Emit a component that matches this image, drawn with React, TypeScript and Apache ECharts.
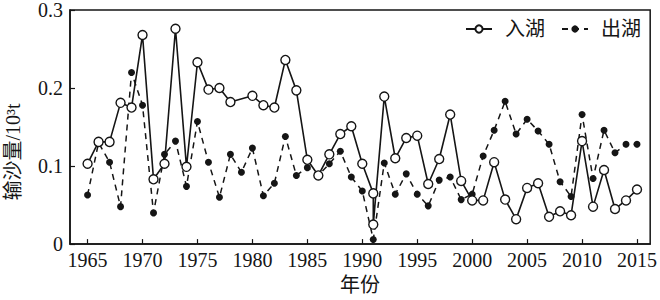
import React, { useEffect, useRef } from "react";
import * as echarts from "echarts";

// 入湖 (inflow) — the original figure skips 1979 and shows two circles near 1991
const inYears = [
  1965, 1966, 1967, 1968, 1969, 1970, 1971, 1972, 1973, 1974, 1975, 1976, 1977, 1978,
  1980, 1981, 1982, 1983, 1984, 1985, 1986, 1987, 1988, 1989, 1990, 1991, 1991,
  1992, 1993, 1994, 1995, 1996, 1997, 1998, 1999, 2000, 2001, 2002, 2003, 2004,
  2005, 2006, 2007, 2008, 2009, 2010, 2011, 2012, 2013, 2014, 2015,
];
const inValues = [
  0.103, 0.131, 0.131, 0.181, 0.175, 0.268, 0.083, 0.103, 0.276, 0.099, 0.233, 0.198, 0.2, 0.182,
  0.19, 0.178, 0.175, 0.236, 0.197, 0.108, 0.088, 0.115, 0.141, 0.151, 0.103, 0.065, 0.025,
  0.189, 0.11, 0.136, 0.139, 0.077, 0.109, 0.166, 0.081, 0.056, 0.056, 0.105, 0.057, 0.032,
  0.072, 0.078, 0.035, 0.042, 0.037, 0.132, 0.048, 0.095, 0.045, 0.056, 0.07,
];

// 出湖 (outflow)
const outYears = [
  1965, 1966, 1967, 1968, 1969, 1970, 1971, 1972, 1973, 1974, 1975, 1976, 1977,
  1978, 1979, 1980, 1981, 1982, 1983, 1984, 1985, 1986, 1987, 1988, 1989, 1990,
  1991, 1992, 1993, 1994, 1995, 1996, 1997, 1998, 1999, 2000, 2001, 2002, 2003,
  2004, 2005, 2006, 2007, 2008, 2009, 2010, 2011, 2012, 2013, 2014, 2015,
];
const outValues = [
  0.063, 0.13, 0.105, 0.048, 0.22, 0.178, 0.04, 0.115, 0.132, 0.074, 0.157, 0.105, 0.06,
  0.115, 0.092, 0.123, 0.062, 0.078, 0.138, 0.088, 0.098, 0.088, 0.103, 0.119, 0.086, 0.068,
  0.006, 0.104, 0.064, 0.09, 0.064, 0.049, 0.082, 0.086, 0.057, 0.064, 0.113, 0.146, 0.183,
  0.141, 0.16, 0.145, 0.128, 0.08, 0.061, 0.166, 0.084, 0.146, 0.117, 0.128, 0.128,
];

const xTicks = [1965, 1970, 1975, 1980, 1985, 1990, 1995, 2000, 2005, 2010, 2015];
const yTicks = [0, 0.1, 0.2, 0.3];
const yTitle = "输沙量/10³t";
const xTitle = "年份";

const FONT = "'Liberation Serif', 'Times New Roman', 'Noto Sans CJK SC', serif";
const INK = "#151515";

export default function App() {
  const ref = useRef<HTMLDivElement>(null);

  useEffect(() => {
    if (!ref.current) return;
    const chart = echarts.init(ref.current, null, { renderer: "svg" });
    chart.setOption({
      animation: false,
      backgroundColor: "#ffffff",
      textStyle: { fontFamily: FONT, color: INK },
      grid: {
        show: true,
        left: 70,
        top: 6,
        right: 4,
        bottom: 48,
        borderColor: INK,
        borderWidth: 1.5,
        backgroundColor: "transparent",
      },
      legend: {
        right: 14,
        top: 14,
        itemWidth: 26,
        itemHeight: 9,
        itemGap: 16,
        textStyle: { fontFamily: FONT, fontSize: 20, color: INK, padding: [0, 0, 0, 8] },
        data: ["入湖", "出湖"],
      },
      graphic: [
        {
          type: "text",
          x: 13,
          y: 152,
          rotation: Math.PI / 2,
          style: {
            text: yTitle,
            font: `20px ${FONT}`,
            fill: INK,
            align: "center",
            verticalAlign: "middle",
          },
        },
      ],
      xAxis: {
        type: "value",
        min: 1963.4,
        max: 2016.2,
        name: xTitle,
        nameLocation: "middle",
        nameGap: 29,
        nameTextStyle: { fontFamily: FONT, fontSize: 20, color: INK },
        axisLine: { show: true, lineStyle: { color: INK, width: 1.5 } },
        axisTick: {
          show: true,
          inside: true,
          length: 5,
          customValues: xTicks,
          lineStyle: { color: INK, width: 1.2 },
        },
        axisLabel: {
          customValues: xTicks,
          fontFamily: FONT,
          fontSize: 20,
          color: INK,
          margin: 6,
          formatter: (v: number) => String(v),
        },
        splitLine: { show: false },
      },
      yAxis: {
        type: "value",
        min: 0,
        max: 0.3,
        interval: 0.1,
        axisLine: { show: true, lineStyle: { color: INK, width: 1.5 } },
        axisTick: {
          show: true,
          inside: true,
          length: 5,
          customValues: yTicks,
          lineStyle: { color: INK, width: 1.2 },
        },
        axisLabel: {
          fontFamily: FONT,
          fontSize: 20,
          color: INK,
          margin: 7,
          formatter: (v: number) => (v === 0 ? "0" : v.toFixed(1)),
        },
        splitLine: { show: false },
      },
      series: [
        {
          name: "出湖",
          type: "line",
          data: outYears.map((y, i) => [y, outValues[i]]),
          symbol: "circle",
          symbolSize: 7,
          showAllSymbol: true,
          itemStyle: { color: INK },
          lineStyle: { color: INK, width: 1.5, type: [6, 5] },
          z: 2,
        },
        {
          name: "入湖",
          type: "line",
          data: inYears.map((y, i) => [y, inValues[i]]),
          symbol: "circle",
          symbolSize: 9,
          showAllSymbol: true,
          itemStyle: { color: "#ffffff", borderColor: INK, borderWidth: 1.4 },
          lineStyle: { color: INK, width: 1.6 },
          z: 3,
        },
      ],
    });
    return () => chart.dispose();
  }, []);

  return (
    <div
      ref={ref}
      style={{ position: "fixed", left: 0, top: 0, width: 660, height: 300, background: "#fff" }}
    />
  );
}
